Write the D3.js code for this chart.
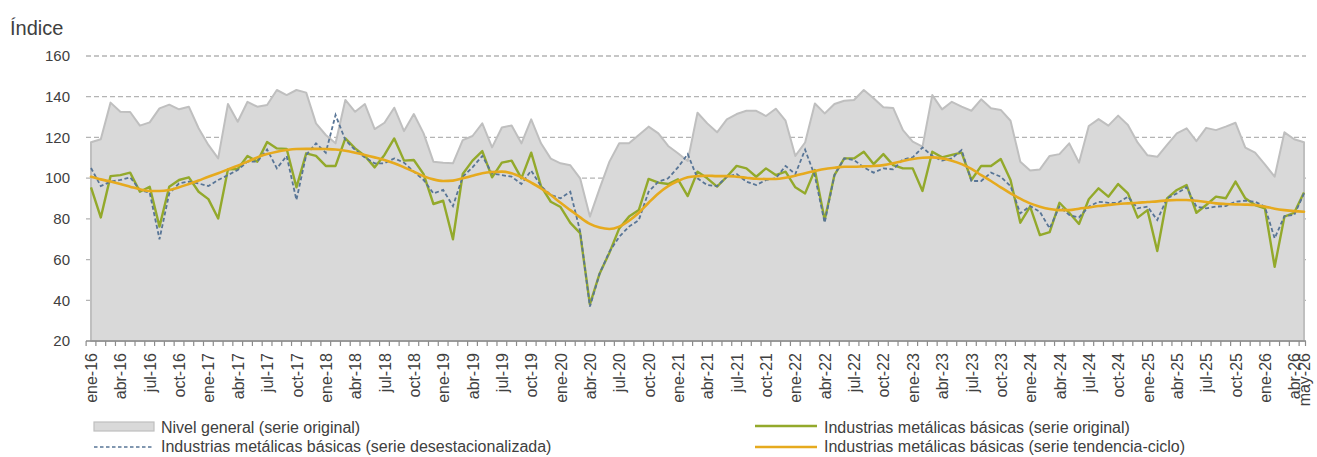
<!DOCTYPE html>
<html>
<head>
<meta charset="utf-8">
<script src="https://cdn.jsdelivr.net/npm/d3@7"></script>
<style>
  html, body { margin: 0; padding: 0; background: #ffffff; }
  svg { display: block; font-family: "Liberation Sans", Arial, sans-serif; }
</style>
</head>
<body>
<svg id="chart" width="1317" height="457"></svg>
<script>
// ---- Data ----
const monthNames = ["ene","feb","mar","abr","may","jun","jul","ago","sep","oct","nov","dic"];
const years = ["16","17","18","19","20","21","22","23","24","25","26"];
const lastMonthIndex = 4; // may-26

const tickLabels = ["ene-16","abr-16","jul-16","oct-16","ene-17","abr-17","jul-17","oct-17",
  "ene-18","abr-18","jul-18","oct-18","ene-19","abr-19","jul-19","oct-19",
  "ene-20","abr-20","jul-20","oct-20","ene-21","abr-21","jul-21","oct-21",
  "ene-22","abr-22","jul-22","oct-22","ene-23","abr-23","jul-23","oct-23",
  "ene-24","abr-24","jul-24","oct-24","ene-25","abr-25","jul-25","oct-25",
  "ene-26","abr-26","may-26"];

const yTicks = [20, 40, 60, 80, 100, 120, 140, 160];

const nivelGeneral = [117.6,119.1,137.1,132.6,132.5,125.8,127.4,134.3,136.1,133.8,135.1,124.5,
  116.3,109.7,136.4,127.7,137.5,135.1,135.9,143.3,140.8,143.3,142.0,126.9,
  121.2,117.1,138.4,132.6,136.4,124.1,127.2,134.6,123.1,131.5,122.0,108.1,
  107.6,107.3,118.7,120.7,126.9,115.1,124.9,125.9,117.1,128.9,117.1,109.6,
  107.3,106.3,99.9,81.1,95.0,108.1,117.1,117.1,121.2,125.3,122.0,115.8,
  112.2,108.4,132.1,126.9,122.5,128.9,131.5,133.1,133.1,130.5,134.1,128.2,
  110.9,117.5,136.7,131.8,136.4,138.0,138.4,143.3,139.2,134.8,134.5,123.6,
  117.9,115.5,140.8,133.8,137.5,135.1,133.1,138.7,134.3,133.5,128.2,108.1,
  103.7,104.3,110.9,111.8,117.1,107.6,125.6,129.0,125.8,130.7,126.1,117.4,
  111.2,110.5,116.3,122.0,124.5,118.2,124.7,123.6,125.3,127.2,115.0,112.5,
  106.8,100.7,122.5,119.1,117.6];

const metalOriginal = [95.5,80.7,101.0,101.5,102.7,93.3,95.8,76.2,95.8,99.1,100.4,93.3,
  89.7,80.2,104.3,104.5,110.9,108.1,117.7,114.6,114.4,95.5,112.2,110.9,
  106.0,106.0,119.5,114.6,110.9,105.3,111.4,119.5,108.6,108.9,102.0,87.3,
  88.9,70.0,102.0,108.6,113.3,100.4,107.6,108.6,99.9,112.5,96.1,88.4,
  85.8,78.0,73.0,38.0,53.2,63.4,75.3,81.1,84.3,99.6,97.8,97.1,
  99.4,91.2,103.2,99.9,95.8,100.7,106.0,104.8,100.7,104.8,101.5,103.2,
  95.5,92.5,104.0,79.4,101.5,109.7,109.7,113.0,106.9,111.8,106.4,104.8,
  104.8,93.7,113.0,110.2,111.4,112.5,99.1,106.0,106.0,109.4,99.1,78.1,
  86.0,72.0,73.5,87.9,83.0,77.5,89.6,95.0,90.9,97.1,92.5,80.6,
  84.3,64.2,90.1,94.2,96.6,83.0,86.8,90.9,90.1,98.3,90.1,86.8,
  85.2,56.5,81.1,83.0,92.9];

const metalDesest = [105.0,96.1,98.3,99.1,100.4,94.2,92.9,70.0,92.5,97.4,98.3,97.4,
  96.1,99.1,101.5,104.0,108.1,108.1,114.1,104.8,110.9,89.3,111.4,117.1,
  112.5,131.0,118.7,113.8,110.2,107.3,107.3,109.7,107.6,103.2,99.1,92.5,
  94.2,86.3,100.7,105.3,110.9,102.3,101.5,100.7,97.1,103.7,96.1,91.7,
  90.1,93.3,74.0,36.9,53.2,63.9,71.2,76.2,79.4,93.3,98.3,99.9,
  105.3,111.8,99.9,96.6,96.1,100.7,102.0,98.3,96.6,99.1,99.9,106.0,
  102.0,114.0,101.0,78.1,101.5,109.7,108.9,105.3,102.7,104.8,104.3,109.2,
  110.2,115.1,110.9,108.6,109.7,113.8,98.6,98.6,102.7,100.7,96.1,82.7,
  86.3,83.5,75.3,86.0,81.9,80.7,86.0,88.4,87.9,87.9,90.9,85.2,
  86.0,79.4,90.1,92.5,95.5,86.0,85.2,86.0,86.3,88.4,88.9,88.4,
  86.0,70.4,81.4,81.9,92.5];

const metalTendencia = [100.7,99.4,98.3,97.1,95.8,94.5,93.7,93.7,94.2,95.5,97.1,98.8,
  100.7,102.4,104.3,106.1,108.1,110.2,111.8,113.0,113.8,114.3,114.4,114.4,
  114.3,114.1,113.5,112.5,111.4,110.2,108.9,107.3,105.3,103.2,101.0,99.4,
  98.6,98.8,99.9,101.2,102.4,103.0,103.2,102.4,100.4,97.8,95.0,91.7,
  87.9,84.3,80.7,77.5,75.7,75.0,76.2,79.1,83.0,87.9,92.5,96.1,
  98.6,100.4,101.0,101.2,101.0,101.0,100.7,100.2,99.7,99.6,99.6,100.2,
  101.2,102.4,103.5,104.5,105.1,105.6,105.6,105.8,106.0,106.4,107.3,108.4,
  109.4,110.0,110.2,109.7,108.6,106.9,104.5,101.5,98.6,95.5,92.5,89.9,
  87.6,86.0,84.8,84.3,84.3,85.0,85.6,86.3,86.8,87.3,87.6,87.9,
  88.3,88.6,89.1,89.3,89.3,88.9,88.3,87.6,87.3,87.1,87.0,86.8,
  86.0,85.0,84.3,83.8,83.5];

const legendLabels = [
  "Nivel general (serie original)",
  "Industrias metálicas básicas (serie original)",
  "Industrias metálicas básicas (serie desestacionalizada)",
  "Industrias metálicas básicas (serie tendencia-ciclo)"
];

// ---- Categories ----
const categories = [];
years.forEach((y, yi) => {
  monthNames.forEach((m, mi) => {
    if (yi === years.length - 1 && mi > lastMonthIndex) return;
    categories.push(m + "-" + y);
  });
});

// ---- Styles ----
const colGeneralFill = "#d9d9d9";
const colGeneralStroke = "#bfbfbf";
const colGreen = "#93a92b";
const colBlue = "#587596";
const colOrange = "#e6aa1e";
const colText = "#404040";

const svg = d3.select("#chart");

const plotLeft = 86, plotRight = 1306;
const x = d3.scalePoint().domain(categories).range([91, 1304]);
const y = d3.scaleLinear().domain([20, 160]).range([341, 56]);
const step = x.step();

// Title
svg.append("text")
  .attr("x", 10).attr("y", 35)
  .attr("font-size", 20).attr("fill", colText)
  .text("Índice");

// Y labels
const yAxis = d3.axisLeft(y).tickValues(yTicks).tickSize(0).tickPadding(0).tickFormat(d3.format("d"));
const gY = svg.append("g").attr("transform", `translate(${plotLeft - 16},0)`).call(yAxis);
gY.select(".domain").remove();
gY.selectAll("text").attr("font-size", 15).attr("fill", colText)
  .attr("font-family", "Liberation Sans, Arial, sans-serif");

// Gridlines (behind area)
svg.append("g").selectAll("line")
  .data(yTicks.filter(d => d > 20))
  .join("line")
  .attr("x1", plotLeft).attr("x2", plotRight)
  .attr("y1", d => y(d)).attr("y2", d => y(d))
  .attr("stroke", "#b4b4b4").attr("stroke-width", 1.3)
  .attr("stroke-dasharray", "5,3");

// Area: Nivel general
const area = d3.area()
  .x((d, i) => x(categories[i]))
  .y0(y(20))
  .y1(d => y(d));
svg.append("path")
  .datum(nivelGeneral)
  .attr("d", area)
  .attr("fill", colGeneralFill)
  .attr("stroke", colGeneralStroke)
  .attr("stroke-width", 2)
  .attr("stroke-linejoin", "round");

// X axis
const xAxisG = svg.append("g").attr("transform", `translate(0,${y(20)})`);
xAxisG.append("line")
  .attr("x1", plotLeft).attr("x2", plotRight)
  .attr("y1", 0).attr("y2", 0)
  .attr("stroke", "#8c8c8c").attr("stroke-width", 1.5);
const tickPos = categories.map(c => x(c) - step / 2).concat([plotRight - 0.5]);
xAxisG.selectAll("line.tick")
  .data(tickPos)
  .join("line")
  .attr("class", "tick")
  .attr("x1", d => d).attr("x2", d => d)
  .attr("y1", 0).attr("y2", 5)
  .attr("stroke", "#8c8c8c").attr("stroke-width", 1.2);

const xAxis = d3.axisBottom(x).tickValues(tickLabels).tickSize(0).tickPadding(0);
const gX = svg.append("g").attr("transform", `translate(0,${y(20)})`).call(xAxis);
gX.select(".domain").remove();
gX.selectAll("text")
  .attr("font-size", 16)
  .attr("fill", colText)
  .attr("font-family", "Liberation Sans, Arial, sans-serif")
  .attr("text-anchor", "end")
  .attr("dy", "0.35em")
  .attr("transform", "translate(0,12) rotate(-90)")
  .attr("x", 0).attr("y", 0);

// Lines
const lineGen = d3.line().x((d, i) => x(categories[i])).y(d => y(d));
const smoothGen = d3.line().x((d, i) => x(categories[i])).y(d => y(d)).curve(d3.curveMonotoneX);

svg.append("path").datum(metalOriginal).attr("d", lineGen)
  .attr("fill", "none").attr("stroke", colGreen).attr("stroke-width", 2.4)
  .attr("stroke-linejoin", "round");
svg.append("path").datum(metalDesest).attr("d", lineGen)
  .attr("fill", "none").attr("stroke", colBlue).attr("stroke-width", 1.8)
  .attr("stroke-dasharray", "4,2.5");
svg.append("path").datum(metalTendencia).attr("d", smoothGen)
  .attr("fill", "none").attr("stroke", colOrange).attr("stroke-width", 2.6)
  .attr("stroke-linecap", "round");

// Legend
const lg = svg.append("g").attr("font-size", 16).attr("fill", colText);
// Row 1 left: area swatch
lg.append("rect").attr("x", 94).attr("y", 422).attr("width", 60).attr("height", 9)
  .attr("fill", colGeneralFill).attr("stroke", colGeneralStroke).attr("stroke-width", 1.2);
lg.append("text").attr("x", 161).attr("y", 433).text(legendLabels[0]);
// Row 1 right: green
lg.append("line").attr("x1", 755).attr("x2", 817).attr("y1", 426).attr("y2", 426)
  .attr("stroke", colGreen).attr("stroke-width", 2.4);
lg.append("text").attr("x", 824).attr("y", 433).text(legendLabels[1]);
// Row 2 left: blue dashed
lg.append("line").attr("x1", 94).attr("x2", 154).attr("y1", 447).attr("y2", 447)
  .attr("stroke", colBlue).attr("stroke-width", 1.5).attr("stroke-dasharray", "3.5,2.5");
lg.append("text").attr("x", 161).attr("y", 452).text(legendLabels[2]);
// Row 2 right: orange
lg.append("line").attr("x1", 755).attr("x2", 817).attr("y1", 447).attr("y2", 447)
  .attr("stroke", colOrange).attr("stroke-width", 2.4);
lg.append("text").attr("x", 824).attr("y", 452).text(legendLabels[3]);
</script>
</body>
</html>
